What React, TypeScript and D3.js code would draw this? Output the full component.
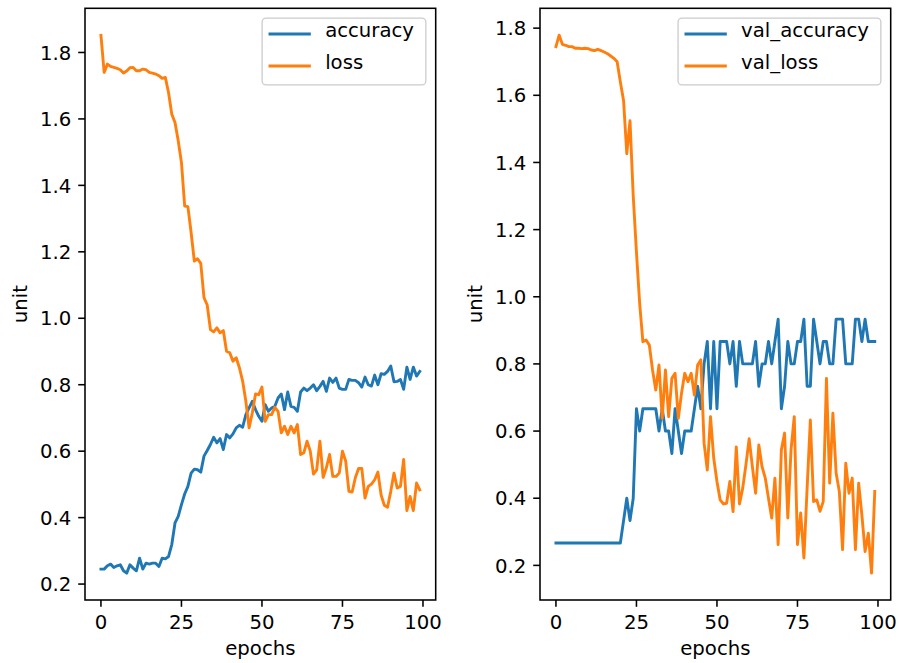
import React from "react";
import * as d3 from "d3";

// ---------- data ----------
const epochs: number[] = Array.from({ length: 100 }, (_, i) => i);

const accuracy: number[] = [
  0.245, 0.245, 0.255, 0.26, 0.25, 0.255, 0.258, 0.24, 0.233, 0.258,
  0.248, 0.24, 0.278, 0.245, 0.263, 0.26, 0.263, 0.263, 0.253, 0.278,
  0.276, 0.283, 0.319, 0.384, 0.404, 0.439, 0.471, 0.494, 0.534, 0.546,
  0.544, 0.537, 0.585, 0.602, 0.62, 0.642, 0.625, 0.638, 0.605, 0.65,
  0.64, 0.652, 0.67, 0.678, 0.672, 0.71, 0.73, 0.75, 0.725, 0.705,
  0.69, 0.74, 0.72, 0.73, 0.735, 0.76, 0.772, 0.725, 0.778, 0.735,
  0.732, 0.72, 0.778, 0.79, 0.782, 0.79, 0.8, 0.782, 0.795, 0.81,
  0.78, 0.82, 0.807, 0.82, 0.79, 0.786, 0.786, 0.816, 0.813, 0.813,
  0.806, 0.793, 0.823, 0.8, 0.796, 0.829, 0.8, 0.833, 0.831, 0.84,
  0.856, 0.809, 0.81, 0.816, 0.786, 0.853, 0.816, 0.853, 0.826, 0.84,
];

const loss: number[] = [
  1.852, 1.74, 1.765, 1.758, 1.755, 1.752, 1.748, 1.738, 1.744, 1.754,
  1.755, 1.745, 1.745, 1.75, 1.748, 1.74, 1.738, 1.735, 1.73, 1.722,
  1.725, 1.679, 1.614, 1.589, 1.534, 1.469, 1.338, 1.336, 1.258, 1.172,
  1.179, 1.165, 1.062, 1.04, 0.966, 0.959, 0.971, 0.956, 0.963, 0.901,
  0.896, 0.871, 0.881, 0.851, 0.811, 0.75, 0.67, 0.715, 0.772, 0.77,
  0.793, 0.69, 0.71, 0.71, 0.732, 0.72, 0.655, 0.675, 0.65, 0.675,
  0.655, 0.68, 0.59, 0.595, 0.63, 0.6, 0.531, 0.544, 0.63, 0.521,
  0.55, 0.59, 0.524, 0.524, 0.534, 0.6, 0.57, 0.479, 0.477, 0.52,
  0.548, 0.548, 0.459, 0.494, 0.501, 0.514, 0.537, 0.468, 0.437, 0.431,
  0.479, 0.534, 0.489, 0.494, 0.575, 0.421, 0.464, 0.421, 0.504, 0.484,
];

// validation accuracy: counts out of 15 validation samples
const valAccuracyCount: number[] = [
  4, 4, 4, 4, 4, 4, 4, 4, 4, 4,
  4, 4, 4, 4, 4, 4, 4, 4, 4, 4,
  4, 5, 6, 5, 6, 10, 9, 10, 10, 10,
  10, 10, 9, 10, 9, 9, 8, 10, 9, 8,
  9, 9, 9, 10, 11, 10, 12, 13, 10, 13,
  10, 13, 13, 13, 12, 13, 11, 13, 12, 12,
  12, 12, 13, 11, 12, 12, 13, 12, 13, 14,
  10, 11, 13, 12, 12, 13, 13, 14, 11, 11,
  14, 13, 12, 13, 13, 12, 12, 14, 14, 14,
  12, 12, 12, 14, 14, 13, 14, 13, 13, 13,
];
const valAccuracy: number[] = valAccuracyCount.map((c) => c / 15);

const valLoss: number[] = [
  1.745, 1.779, 1.752, 1.749, 1.745, 1.745, 1.74, 1.74, 1.739, 1.74,
  1.739, 1.735, 1.733, 1.737, 1.733, 1.729, 1.724, 1.717, 1.71, 1.7,
  1.64, 1.584, 1.426, 1.524, 1.3, 1.133, 0.98, 0.866, 0.871, 0.856,
  0.782, 0.722, 0.797, 0.638, 0.782, 0.643, 0.757, 0.772, 0.638, 0.713,
  0.772, 0.747, 0.772, 0.707, 0.797, 0.812, 0.564, 0.484, 0.643, 0.519,
  0.45, 0.395, 0.383, 0.385, 0.45, 0.36, 0.553, 0.383, 0.43, 0.5,
  0.577, 0.494, 0.415, 0.559, 0.494, 0.46, 0.4, 0.341, 0.46, 0.262,
  0.544, 0.594, 0.341, 0.544, 0.643, 0.262, 0.356, 0.222, 0.43, 0.633,
  0.39, 0.395, 0.361, 0.39, 0.757, 0.445, 0.653, 0.475, 0.42, 0.247,
  0.504, 0.415, 0.46, 0.247, 0.445, 0.35, 0.241, 0.296, 0.177, 0.42,
];

const xTicks: number[] = [0, 25, 50, 75, 100];
const yTicks: number[] = [0.2, 0.4, 0.6, 0.8, 1.0, 1.2, 1.4, 1.6, 1.8];
const xLabel = "epochs";
const yLabel = "unit";

// ---------- styling ----------
const W = 899;
const H = 663;
const FS = 19.7;
const FONT = "'DejaVu Sans', sans-serif";
const BLUE = "#1f77b4";
const ORANGE = "#ff7f0e";
const LW = 2.9;
const SPINE = 1.56;
const TICK = 6.8;
const PAD = 6.8;

type Series = { name: string; values: number[]; color: string };
type Panel = {
  left: number;
  right: number;
  top: number;
  bottom: number;
  ylabelX: number;
  series: Series[];
};

const panels: Panel[] = [
  {
    left: 85,
    right: 435.7,
    top: 8.3,
    bottom: 600,
    ylabelX: 26.5,
    series: [
      { name: "accuracy", values: accuracy, color: BLUE },
      { name: "loss", values: loss, color: ORANGE },
    ],
  },
  {
    left: 540,
    right: 890.7,
    top: 8.3,
    bottom: 600,
    ylabelX: 481.5,
    series: [
      { name: "val_accuracy", values: valAccuracy, color: BLUE },
      { name: "val_loss", values: valLoss, color: ORANGE },
    ],
  },
];

let ctx: CanvasRenderingContext2D | null = null;
function textWidth(s: string): number {
  if (!ctx) {
    const c = document.createElement("canvas");
    ctx = c.getContext("2d");
  }
  if (!ctx) return s.length * FS * 0.6;
  ctx.font = `${FS}px "DejaVu Sans"`;
  return ctx.measureText(s).width;
}

function PanelView({ p, idx }: { p: Panel; idx: number }) {
  const n = epochs.length - 1;
  const x = d3
    .scaleLinear()
    .domain([-0.05 * n, n + 0.05 * n])
    .range([p.left, p.right]);
  const all = p.series.flatMap((s) => s.values);
  const mn = d3.min(all) as number;
  const mx = d3.max(all) as number;
  const r = mx - mn;
  const y = d3
    .scaleLinear()
    .domain([mn - 0.05 * r, mx + 0.05 * r])
    .range([p.bottom, p.top]);

  const line = (vals: number[]) =>
    d3
      .line<number>()
      .x((_, i) => x(epochs[i]))
      .y((v) => y(v))(vals) as string;

  const clipId = `clip${idx}`;
  const maxw = d3.max(p.series, (s) => textWidth(s.name)) as number;
  const boxRight = p.right - 0.5 * FS;
  const boxW = maxw + 3.6 * FS + 4;
  const boxLeft = boxRight - boxW;
  const boxTop = p.top + 0.5 * FS;
  const boxH = 66.7;
  const handleX0 = boxLeft + 0.4 * FS;
  const handleX1 = handleX0 + 2 * FS;
  const textX = handleX1 + 0.8 * FS;

  return (
    <g>
      <defs>
        <clipPath id={clipId}>
          <rect x={p.left} y={p.top} width={p.right - p.left} height={p.bottom - p.top} />
        </clipPath>
      </defs>
      <g clipPath={`url(#${clipId})`}>
        {p.series.map((s) => (
          <path
            key={s.name}
            d={line(s.values)}
            fill="none"
            stroke={s.color}
            strokeWidth={LW}
            strokeLinejoin="round"
            strokeLinecap="square"
          />
        ))}
      </g>
      {/* spines */}
      <rect
        x={p.left}
        y={p.top}
        width={p.right - p.left}
        height={p.bottom - p.top}
        fill="none"
        stroke="#000"
        strokeWidth={SPINE}
      />
      {/* x ticks */}
      {xTicks.map((t) => (
        <g key={"x" + t}>
          <line x1={x(t)} x2={x(t)} y1={p.bottom} y2={p.bottom + TICK} stroke="#000" strokeWidth={SPINE} />
          <text
            x={x(t)}
            y={628.5}
            textAnchor="middle"
            fontFamily={FONT}
            fontSize={FS}
            fill="#000"
          >
            {t}
          </text>
        </g>
      ))}
      {/* y ticks */}
      {yTicks
        .filter((t) => y(t) >= p.top - 0.5 && y(t) <= p.bottom + 0.5)
        .map((t) => (
          <g key={"y" + t}>
            <line x1={p.left - TICK} x2={p.left} y1={y(t)} y2={y(t)} stroke="#000" strokeWidth={SPINE} />
            <text
              x={p.left - TICK - PAD}
              y={y(t) + 0.3645 * FS}
              textAnchor="end"
              fontFamily={FONT}
              fontSize={FS}
              fill="#000"
            >
              {d3.format(".1f")(t)}
            </text>
          </g>
        ))}
      <text
        x={(p.left + p.right) / 2}
        y={655}
        textAnchor="middle"
        fontFamily={FONT}
        fontSize={FS}
        fill="#000"
      >
        {xLabel}
      </text>
      <text
        transform={`translate(${p.ylabelX},${(p.top + p.bottom) / 2}) rotate(-90)`}
        textAnchor="middle"
        fontFamily={FONT}
        fontSize={FS}
        fill="#000"
      >
        {yLabel}
      </text>
      {/* legend */}
      <rect
        x={boxLeft}
        y={boxTop}
        width={boxW}
        height={boxH}
        rx={3.9}
        ry={3.9}
        fill="#fff"
        fillOpacity={0.8}
        stroke="#cccccc"
        strokeWidth={1.3}
      />
      {p.series.map((s, i) => {
        const base = boxTop + 19.2 + i * 32;
        return (
          <g key={"lg" + s.name}>
            <line
              x1={handleX0}
              x2={handleX1}
              y1={base - 3.4}
              y2={base - 3.4}
              stroke={s.color}
              strokeWidth={LW}
              strokeLinecap="square"
            />
            <text x={textX} y={base} fontFamily={FONT} fontSize={FS} fill="#000">
              {s.name}
            </text>
          </g>
        );
      })}
    </g>
  );
}

export default function App() {
  return (
    <svg
      width={W}
      height={H}
      viewBox={`0 0 ${W} ${H}`}
      style={{ position: "absolute", left: 0, top: 0, background: "#fff" }}
    >
      <rect x={0} y={0} width={W} height={H} fill="#fff" />
      {panels.map((p, i) => (
        <PanelView key={i} p={p} idx={i} />
      ))}
    </svg>
  );
}
